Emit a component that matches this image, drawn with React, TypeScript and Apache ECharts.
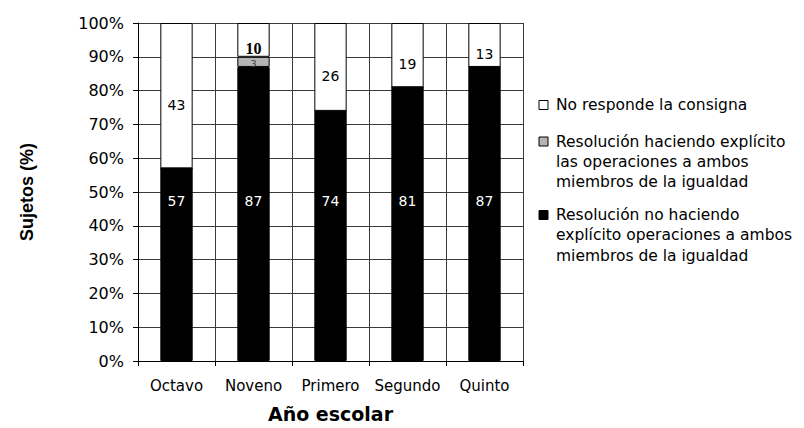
import React, { useEffect, useRef } from "react";
import * as echarts from "echarts";

// Distribución de respuestas por año escolar (porcentaje de sujetos)
const categories = ["Octavo", "Noveno", "Primero", "Segundo", "Quinto"];
const noHaciendoExplicito = [57, 87, 74, 81, 87];
const haciendoExplicito = [0, 3, 0, 0, 0];
const noResponde = [43, 10, 26, 19, 13];

const legendItems = [
  { text: "No responde la consigna", color: "#ffffff" },
  {
    text: "Resolución haciendo explícito\nlas operaciones a ambos\nmiembros de la igualdad",
    color: "#b4b4b4",
  },
  {
    text: "Resolución no haciendo\nexplícito operaciones a ambos\nmiembros de la igualdad",
    color: "#000000",
  },
];

const FONT = "'DejaVu Sans', sans-serif";
const GRID_COLOR = "#3a3a3a";

export default function App() {
  const ref = useRef<HTMLDivElement>(null);

  useEffect(() => {
    if (!ref.current) return;
    const chart = echarts.init(ref.current, undefined, { renderer: "svg" });

    const legendTops = [105, 141.5, 215];
    const lineHeight = 20.3;
    const legendGraphics = legendItems.map((item, i) => ({
      type: "group",
      children: [
        {
          type: "rect",
          shape: { x: 539, y: legendTops[i] - 4.5, width: 9, height: 9 },
          style: { fill: item.color, stroke: "#000", lineWidth: 1 },
        },
        {
          type: "text",
          style: {
            x: 556,
            y: legendTops[i] - lineHeight / 2,
            text: item.text,
            font: `15.5px ${FONT}`,
            fill: "#000",
            lineHeight,
            verticalAlign: "top",
          },
        },
      ],
    }));

    chart.setOption({
      animation: false,
      backgroundColor: "#ffffff",
      grid: { left: 138, right: 281, top: 23, bottom: 66 },
      xAxis: {
        type: "category",
        data: categories,
        boundaryGap: true,
        axisLine: { lineStyle: { color: "#000", width: 1 } },
        axisTick: { show: true, length: 5, alignWithLabel: false, interval: 0, lineStyle: { color: "#000" } },
        splitLine: { show: true, interval: 0, lineStyle: { color: GRID_COLOR, width: 1 } },
        axisLabel: { interval: 0, color: "#000", fontFamily: FONT, fontSize: 15, margin: 17 },
        name: "Año escolar",
        nameLocation: "middle",
        nameGap: 43,
        nameTextStyle: { color: "#000", fontFamily: FONT, fontWeight: "bold", fontSize: 19 },
      },
      yAxis: {
        type: "value",
        min: 0,
        max: 100,
        interval: 10,
        axisLine: { show: true, lineStyle: { color: "#000", width: 1 } },
        axisTick: { show: true, length: 5, inside: false, lineStyle: { color: "#000" } },
        splitLine: { show: true, lineStyle: { color: GRID_COLOR, width: 1 } },
        axisLabel: { formatter: "{value}%", color: "#000", fontFamily: FONT, fontSize: 16, margin: 14 },
        name: "Sujetos (%)",
        nameLocation: "middle",
        nameGap: 102,
        nameTextStyle: {
          color: "#000",
          fontFamily: "'Liberation Sans', Arial, sans-serif",
          fontWeight: "bold",
          fontSize: 18,
        },
      },
      series: [
        {
          name: "Resolución no haciendo explícito operaciones a ambos miembros de la igualdad",
          type: "bar",
          stack: "total",
          barCategoryGap: "58%",
          data: noHaciendoExplicito,
          itemStyle: { color: "#000000", borderColor: "#000", borderWidth: 1 },
          label: {
            show: true,
            position: "insideBottom",
            distance: 153,
            color: "#fff",
            fontFamily: FONT,
            fontSize: 14,
          },
        },
        {
          name: "Resolución haciendo explícito las operaciones a ambos miembros de la igualdad",
          type: "bar",
          stack: "total",
          data: haciendoExplicito,
          itemStyle: { color: "#b4b4b4", borderColor: "#000", borderWidth: 1 },
          label: {
            show: true,
            position: "inside",
            offset: [0, 2],
            color: "#333",
            fontFamily: FONT,
            fontSize: 9,
            formatter: (p: any) => (p.value > 0 ? String(p.value) : ""),
          },
        },
        {
          name: "No responde la consigna",
          type: "bar",
          stack: "total",
          data: noResponde.map((v, i) =>
            i === 1
              ? {
                  value: v,
                  label: {
                    fontFamily: "'Liberation Serif', 'Times New Roman', serif",
                    fontWeight: "bold",
                    fontSize: 16,
                  },
                }
              : v
          ),
          itemStyle: { color: "#ffffff", borderColor: "#000", borderWidth: 1 },
          label: {
            show: true,
            position: "inside",
            offset: [0, 9],
            color: "#000",
            fontFamily: FONT,
            fontSize: 14,
          },
        },
      ],
      graphic: legendGraphics,
    });

    return () => chart.dispose();
  }, []);

  return (
    <div
      ref={ref}
      style={{ position: "fixed", left: 0, top: 0, width: 804, height: 428, background: "#fff" }}
    />
  );
}
